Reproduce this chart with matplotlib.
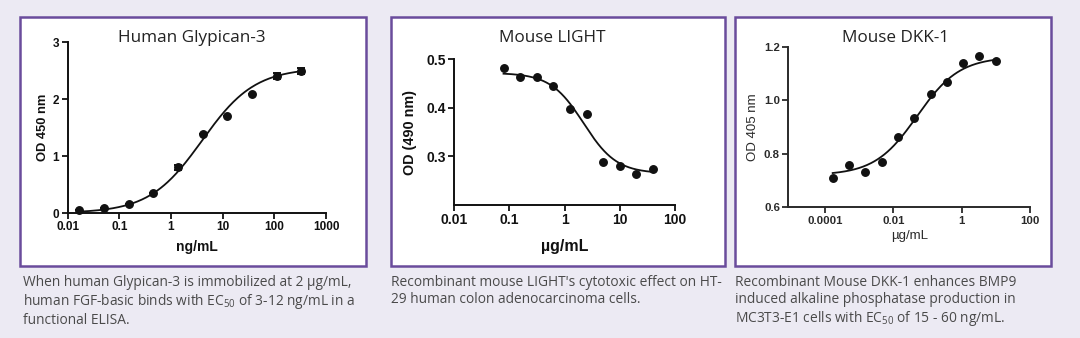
import numpy as np
import matplotlib
matplotlib.use('Agg')
import matplotlib.pyplot as plt
from matplotlib.patches import Rectangle
from matplotlib.ticker import FixedLocator, FixedFormatter, NullLocator

plt.rcParams['font.family'] = ['Liberation Sans', 'DejaVu Sans']
plt.rcParams['mathtext.fontset'] = 'custom'
plt.rcParams['mathtext.rm'] = 'Open Sans'

# --- data ---
# Human Glypican-3 (ng/mL vs OD 450)
conc1 = [0.0169, 0.0508, 0.152, 0.457, 1.37, 4.12, 12.3, 37.0, 111, 333]
od1 = [0.05, 0.08, 0.16, 0.35, 0.80, 1.39, 1.70, 2.10, 2.41, 2.50]
err1 = [0, 0, 0, 0, 0.05, 0, 0, 0, 0.05, 0.05]
fit1 = dict(bottom=0.0, top=2.55, ec50=4.0, hill=0.85)
xt1 = [0.01, 0.1, 1, 10, 100, 1000]
xl1 = ['0.01', '0.1', '1', '10', '100', '1000']
yt1 = [0, 1, 2, 3]
yl1 = ['0', '1', '2', '3']

# Mouse LIGHT (ug/mL vs OD 490)
conc2 = [0.078, 0.156, 0.3125, 0.625, 1.25, 2.5, 5, 10, 20, 40]
od2 = [0.482, 0.464, 0.464, 0.446, 0.397, 0.388, 0.288, 0.281, 0.264, 0.274]
fit2 = dict(bottom=0.265, top=0.472, ec50=2.2, hill=-1.45)
xt2 = [0.01, 0.1, 1, 10, 100]
xl2 = ['0.01', '0.1', '1', '10', '100']
yt2 = [0.3, 0.4, 0.5]
yl2 = ['0.3', '0.4', '0.5']

# Mouse DKK-1 (ug/mL vs OD 405)
conc3 = [0.000169, 0.000508, 0.00152, 0.00457, 0.0137, 0.0412, 0.123, 0.370, 1.11, 3.33, 10]
od3 = [0.711, 0.758, 0.733, 0.770, 0.861, 0.935, 1.022, 1.069, 1.138, 1.166, 1.148]
fit3 = dict(bottom=0.72, top=1.162, ec50=0.05, hill=0.7)
xt3 = [0.0001, 0.01, 1, 100]
xl3 = ['0.0001', '0.01', '1', '100']
yt3 = [0.6, 0.8, 1.0, 1.2]
yl3 = ['0.6', '0.8', '1.0', '1.2']

titles = ['Human Glypican-3', 'Mouse LIGHT', 'Mouse DKK-1']
captions = [
    'When human Glypican-3 is immobilized at 2 \u00b5g/mL,\nhuman FGF-basic binds with EC$_{50}$ of 3-12 ng/mL in a\nfunctional ELISA.',
    "Recombinant mouse LIGHT's cytotoxic effect on HT-\n29 human colon adenocarcinoma cells.",
    'Recombinant Mouse DKK-1 enhances BMP9\ninduced alkaline phosphatase production in\nMC3T3-E1 cells with EC$_{50}$ of 15 - 60 ng/mL.',
]


def logistic(x, p):
    return p['bottom'] + (p['top'] - p['bottom']) / (1 + (p['ec50'] / x) ** p['hill'])


W, H = 1080, 338
fig = plt.figure(figsize=(W / 100, H / 100), dpi=100)
fig.patch.set_facecolor('#ECEAF3')


def frac(box):
    x0, y0, x1, y1 = box
    return [x0 / W, 1 - y1 / H, (x1 - x0) / W, (y1 - y0) / H]


# panel frames
for (x0, y0, x1, y1) in [(20, 17, 366, 266), (391, 17, 725, 266), (735, 17, 1051, 266)]:
    fig.patches.append(Rectangle((x0 / W, 1 - y1 / H), (x1 - x0) / W, (y1 - y0) / H,
                                 transform=fig.transFigure, facecolor='white',
                                 edgecolor='#6A4C9C', linewidth=1.8, zorder=-5))


def style(ax, xt, xl, yt, yl, tsize, col='#111111'):
    ax.set_xscale('log')
    for s in ['top', 'right']:
        ax.spines[s].set_visible(False)
    for s in ['left', 'bottom']:
        ax.spines[s].set_linewidth(1.4)
        ax.spines[s].set_color(col)
    ax.xaxis.set_major_locator(FixedLocator(xt))
    ax.xaxis.set_major_formatter(FixedFormatter(xl))
    ax.xaxis.set_minor_locator(NullLocator())
    ax.yaxis.set_major_locator(FixedLocator(yt))
    ax.yaxis.set_major_formatter(FixedFormatter(yl))
    ax.tick_params(length=4, width=1.3, pad=2, labelsize=tsize, colors=col)
    for lab in ax.get_xticklabels() + ax.get_yticklabels():
        lab.set_fontweight('bold')
    ax.set_facecolor('none')


def labels(ax, box, xlab, xlab_y, ylab, ylab_x, size, weight, col='#111111'):
    # axis titles placed at pixel positions
    x0, y0, x1, y1 = box
    ax.set_xlabel(xlab, fontsize=size[0], fontweight=weight, color=col, va='center')
    ax.set_ylabel(ylab, fontsize=size[1], fontweight=weight, color=col, va='center')
    ax.xaxis.set_label_coords(0.5, (y1 - xlab_y) / (y1 - y0))
    ax.yaxis.set_label_coords((ylab_x - x0) / (x1 - x0), 0.5)


def draw(ax, conc, od, p, err=None):
    xx = np.logspace(np.log10(conc[0]), np.log10(conc[-1]), 200)
    ax.plot(xx, logistic(xx, p), color='#111111', lw=1.3, clip_on=False)
    if err is not None:
        ax.errorbar(conc, od, yerr=err, fmt='o', color='#111111', ms=5.4,
                    capsize=3, elinewidth=1.2, capthick=1.4, clip_on=False)
    else:
        ax.plot(conc, od, 'o', color='#111111', ms=5.4, clip_on=False)


# panel 1
box1 = (67.7, 42.3, 326, 213)
ax1 = fig.add_axes(frac(box1))
draw(ax1, conc1, od1, fit1, err1)
ax1.set_xlim(0.01, 1000)
ax1.set_ylim(0, 3)
style(ax1, xt1, xl1, yt1, yl1, 8.5)
labels(ax1, box1, 'ng/mL', 247, 'OD 450 nm', 43, (10, 9.3), 'bold')

# panel 2
box2 = (454.3, 59.3, 675, 205)
ax2 = fig.add_axes(frac(box2))
draw(ax2, conc2, od2, fit2)
ax2.set_xlim(0.01, 100)
ax2.set_ylim(0.2, 0.5)
style(ax2, xt2, xl2, yt2, yl2, 10)
labels(ax2, box2, '\u00b5g/mL', 247, 'OD (490 nm)', 410, (11.5, 10.4), 'bold')

# panel 3
box3 = (788.3, 46.7, 1030, 207.3)
ax3 = fig.add_axes(frac(box3))
draw(ax3, conc3, od3, fit3)
ax3.set_xlim(10 ** -5.07, 100)
ax3.set_ylim(0.6, 1.2)
style(ax3, xt3, xl3, yt3, yl3, 8.2, col='#2a2a2a')
labels(ax3, box3, '\u00b5g/mL', 236, 'OD 405 nm', 753, (9.5, 9.5), 'normal', col='#2a2a2a')

# titles and captions
for (cx, text) in zip([192, 552, 895], titles):
    fig.text(cx / W, 1 - 38 / H, text, ha='center', va='center', fontsize=12.3,
             family='Open Sans', color='#222222')
for (lx, text) in zip([23, 391, 735], captions):
    fig.text(lx / W, 1 - 275 / H, text, ha='left', va='top', fontsize=9.9,
             family='Open Sans', color='#4a4a4a', linespacing=1.17)

fig.savefig('out.png', dpi=100, facecolor=fig.get_facecolor())
